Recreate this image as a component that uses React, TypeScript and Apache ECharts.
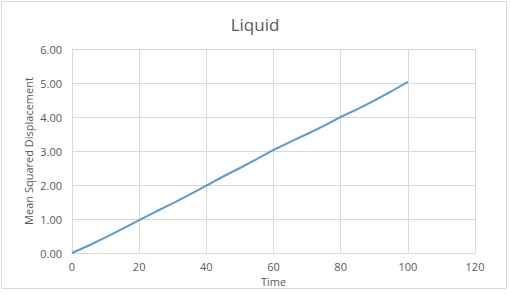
import React, { useEffect, useRef } from "react";
import * as echarts from "echarts";

const times = [0, 5, 10, 15, 20, 25, 30, 35, 40, 45, 50, 55, 60, 65, 70, 75, 80, 85, 90, 95, 100];
const msd = [0, 0.22, 0.46, 0.71, 0.97, 1.22, 1.46, 1.72, 1.98, 2.25, 2.5, 2.76, 3.03, 3.27, 3.5, 3.74, 4.0, 4.23, 4.48, 4.75, 5.03];

const FONT = "'Open Sans', 'Noto Sans', sans-serif";
const TXT = "#595959";
const GRID = "#d9d9d9";

export default function App() {
  const ref = useRef<HTMLDivElement>(null);
  useEffect(() => {
    if (!ref.current) return;
    const chart = echarts.init(ref.current, undefined, { renderer: "svg" });
    chart.setOption({
      animation: false,
      backgroundColor: "#ffffff",
      title: {
        text: "Liquid",
        left: "center",
        top: 11,
        textStyle: { fontFamily: FONT, fontSize: 17, fontWeight: "normal", color: TXT },
      },
      graphic: [
        {
          type: "rect",
          shape: { x: 1.5, y: 1.5, width: 505, height: 287 },
          style: { fill: "none", stroke: GRID, lineWidth: 1 },
          silent: true,
        },
      ],
      grid: { left: 72, top: 49, right: 35, bottom: 42 },
      xAxis: {
        type: "value",
        min: 0,
        max: 120,
        interval: 20,
        name: "Time",
        nameLocation: "middle",
        nameGap: 23,
        nameMoveOverlap: false,
        nameTextStyle: { fontFamily: FONT, fontSize: 11, lineHeight: 11, color: TXT },
        axisLine: { show: true, lineStyle: { color: GRID } },
        axisTick: { show: false },
        axisLabel: { fontFamily: FONT, fontSize: 11, lineHeight: 11, color: TXT, margin: 8 },
        splitLine: { show: true, lineStyle: { color: GRID } },
      },
      yAxis: {
        type: "value",
        min: 0,
        max: 6,
        interval: 1,
        name: "Mean Squared Displacement",
        nameLocation: "middle",
        nameGap: 38,
        nameMoveOverlap: false,
        nameTextStyle: { fontFamily: FONT, fontSize: 11, color: TXT },
        axisLine: { show: true, lineStyle: { color: GRID } },
        axisTick: { show: false },
        axisLabel: {
          fontFamily: FONT,
          fontSize: 11,
          color: TXT,
          margin: 10,
          formatter: (v: number) => v.toFixed(2),
        },
        splitLine: { show: true, lineStyle: { color: GRID } },
      },
      series: [
        {
          type: "line",
          data: times.map((t, i) => [t, msd[i]]),
          showSymbol: false,
          symbol: "none",
          lineStyle: { color: "#5b9bd5", width: 2 },
        },
      ],
    });
    return () => chart.dispose();
  }, []);
  return (
    <div
      ref={ref}
      style={{ position: "fixed", left: 0, top: 0, width: 510, height: 295 }}
    />
  );
}
